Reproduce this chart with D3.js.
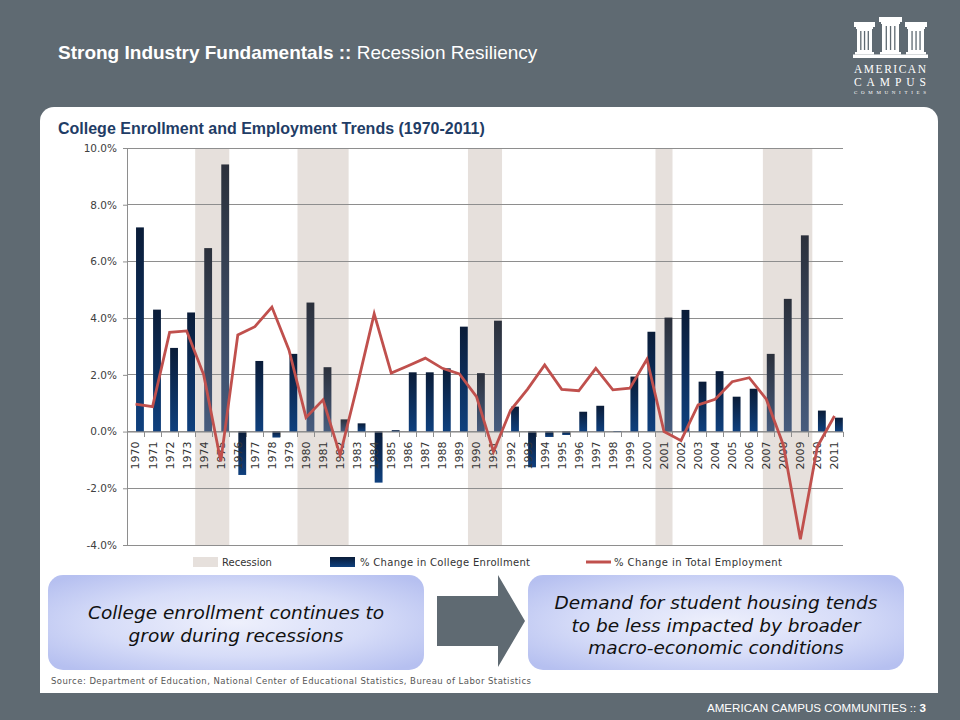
<!DOCTYPE html>
<html>
<head>
<meta charset="utf-8">
<script src="https://cdn.jsdelivr.net/npm/d3@7"></script>
<style>
  html, body { margin: 0; padding: 0; background: #5f6a72; }
  svg { display: block; }
</style>
</head>
<body>
<svg id="chart" width="960" height="720"></svg>
<script>
// ---------- DATA ----------
const years = [1970,1971,1972,1973,1974,1975,1976,1977,1978,1979,
               1980,1981,1982,1983,1984,1985,1986,1987,1988,1989,
               1990,1991,1992,1993,1994,1995,1996,1997,1998,1999,
               2000,2001,2002,2003,2004,2005,2006,2007,2008,2009,
               2010,2011];
const enrollment = [7.2, 4.3, 2.95, 4.2, 6.47, 9.42, -1.53, 2.49, -0.21, 2.74,
                    4.55, 2.27, 0.43, 0.29, -1.8, 0.05, 2.09, 2.09, 2.23, 3.7,
                    2.06, 3.91, 0.88, -1.26, -0.19, -0.12, 0.7, 0.91, 0.02, 1.94,
                    3.52, 4.02, 4.29, 1.76, 2.13, 1.23, 1.51, 2.74, 4.68, 6.92,
                    0.74, 0.49];
const employment = [0.97, 0.88, 3.5, 3.55, 2.0, -1.05, 3.41, 3.7, 4.39, 2.88,
                    0.5, 1.12, -0.83, 1.6, 4.15, 2.06, 2.32, 2.59, 2.23, 2.03,
                    1.23, -0.71, 0.75, 1.5, 2.35, 1.49, 1.44, 2.23, 1.47, 1.53,
                    2.55, 0.0, -0.32, 0.94, 1.14, 1.76, 1.9, 1.14, -0.47, -3.8,
                    -0.53, 0.55];
// recession periods (start / end, in year units)
const recessionStart = [1974, 1980, 1990, 2001, 2007.3];
const recessionEnd   = [1975, 1982, 1991, 2001, 2009.2];
const yTickValues = [-4, -2, 0, 2, 4, 6, 8, 10];
const yTickLabels = ["-4.0%", "-2.0%", "0.0%", "2.0%", "4.0%", "6.0%", "8.0%", "10.0%"];
const legendLabels = ["Recession", "% Change in College Enrollment", "% Change in Total Employment"];
const headerBold = "Strong Industry Fundamentals :: ";
const headerRegular = "Recession Resiliency";
const chartTitle = "College Enrollment and Employment Trends (1970-2011)";
const leftBoxLines = ["College enrollment continues to", "grow during recessions"];
const rightBoxLines = ["Demand for student housing tends", "to be less impacted by broader", "macro-economic conditions"];
const sourceText = "Source: Department of Education, National Center of Educational Statistics, Bureau of Labor Statistics";
const footerText = "AMERICAN CAMPUS COMMUNITIES :: ";
const pageNumber = "3";
const logoLines = ["AMERICAN", "CAMPUS", "COMMUNITIES"];

// ---------- SETUP ----------
const svg = d3.select("#chart");
const defs = svg.append("defs");

function linGrad(id, c0, c1) {
  const g = defs.append("linearGradient").attr("id", id)
    .attr("x1", 0).attr("y1", 0).attr("x2", 0).attr("y2", 1);
  g.append("stop").attr("offset", "0%").attr("stop-color", c0);
  g.append("stop").attr("offset", "100%").attr("stop-color", c1);
}
linGrad("barGrad", "#0a1c38", "#0f407e");
linGrad("barGradRec", "#2b303b", "#475c7e");

const boxGrad = defs.append("radialGradient").attr("id", "boxGrad")
  .attr("cx", "50%").attr("cy", "50%").attr("r", "65%");
boxGrad.append("stop").attr("offset", "0%").attr("stop-color", "#eef0fc");
boxGrad.append("stop").attr("offset", "55%").attr("stop-color", "#d6dcf8");
boxGrad.append("stop").attr("offset", "100%").attr("stop-color", "#b6c0f0");

// background
svg.append("rect").attr("width", 960).attr("height", 720).attr("fill", "#5f6a72");

// header title
const ht = svg.append("text").attr("x", 58).attr("y", 59)
  .attr("font-family", "Liberation Sans, Arial, sans-serif").attr("font-size", 19)
  .attr("fill", "#ffffff");
ht.append("tspan").attr("font-weight", "bold").text(headerBold);
ht.append("tspan").text(headerRegular);

// logo
const logo = svg.append("g").attr("fill", "#ffffff");
const cols = [
  {x: 855, w: 19, top: 22},
  {x: 880, w: 21, top: 17},
  {x: 906, w: 20, top: 22}
];
const colBase = 52;
cols.forEach(c => {
  logo.append("rect").attr("x", c.x - 1).attr("y", c.top).attr("width", c.w + 2).attr("height", 5);
  logo.append("rect").attr("x", c.x + 1).attr("y", c.top + 5).attr("width", c.w - 2).attr("height", 2);
  logo.append("rect").attr("x", c.x + 2).attr("y", c.top + 7).attr("width", c.w - 4).attr("height", colBase - c.top - 7);
  for (let k = 1; k <= 3; k++) {
    logo.append("rect").attr("x", c.x + 2 + k * (c.w - 4) / 4 - 0.6).attr("y", c.top + 9)
      .attr("width", 1.3).attr("height", colBase - c.top - 11).attr("fill", "#5f6a72");
  }
  logo.append("rect").attr("x", c.x).attr("y", colBase).attr("width", c.w).attr("height", 2.5);
});
logo.append("rect").attr("x", 853).attr("y", 54.5).attr("width", 75).attr("height", 3.5);
logo.append("text").attr("x", 854).attr("y", 73).attr("font-family", "Liberation Serif, serif")
  .attr("font-size", 11.5).attr("textLength", 72).attr("lengthAdjust", "spacing").text(logoLines[0]);
logo.append("text").attr("x", 854).attr("y", 86).attr("font-family", "Liberation Serif, serif")
  .attr("font-size", 11.5).attr("textLength", 72).attr("lengthAdjust", "spacing").text(logoLines[1]);
logo.append("text").attr("x", 854).attr("y", 94).attr("font-family", "Liberation Serif, serif")
  .attr("font-size", 5).attr("textLength", 72).attr("lengthAdjust", "spacing").text(logoLines[2]);

// white panel
svg.append("rect").attr("x", 40).attr("y", 107).attr("width", 898).attr("height", 586)
  .attr("rx", 14).attr("fill", "#ffffff");
svg.append("rect").attr("x", 40).attr("y", 670).attr("width", 898).attr("height", 23)
  .attr("fill", "#ffffff");

// chart title
svg.append("text").attr("x", 58).attr("y", 134)
  .attr("font-family", "Liberation Sans, Arial, sans-serif").attr("font-size", 16)
  .attr("font-weight", "bold").attr("fill", "#1f3d66").text(chartTitle);

// ---------- SCALES ----------
const x0 = 127, x1 = 843, yTop = 148, yBot = 545;
const x = d3.scaleBand().domain(years).range([x0, x1]).padding(0);
const xLin = d3.scaleLinear().domain([years[0], years[years.length - 1] + 1]).range([x0, x1]);
const y = d3.scaleLinear().domain([-4, 10]).range([yBot, yTop]);
const bw = x.bandwidth();

// recession shading
const recessions = recessionStart.map((s, i) => ({s, e: recessionEnd[i]}));
svg.append("g").selectAll("rect").data(recessions).join("rect")
  .attr("x", d => xLin(d.s)).attr("width", d => xLin(d.e + 1) - xLin(d.s))
  .attr("y", yTop).attr("height", yBot - yTop).attr("fill", "#e6e0dc");

// gridlines
svg.append("g").selectAll("line").data(yTickValues).join("line")
  .attr("x1", x0).attr("x2", x1).attr("y1", d => y(d)).attr("y2", d => y(d))
  .attr("stroke", "#8e8e8e").attr("stroke-width", 1).attr("shape-rendering", "crispEdges");

// y axis
const yAxis = d3.axisLeft(y).tickValues(yTickValues)
  .tickFormat((d, i) => yTickLabels[i]).tickSize(4).tickPadding(6);
const yg = svg.append("g").attr("transform", `translate(${x0},0)`).call(yAxis);
yg.select(".domain").attr("stroke", "#8e8e8e");
yg.selectAll(".tick line").attr("stroke", "#8e8e8e");
yg.selectAll(".tick text").attr("font-family", "DejaVu Sans, sans-serif").attr("font-size", 10.5)
  .attr("fill", "#404040");

// bars
function inRecession(yr) {
  const cx = x(yr) + bw * 0.75;
  return recessions.some(r => cx >= xLin(r.s) && cx <= xLin(r.e + 1));
}
const barData = years.map((yr, i) => ({yr, v: enrollment[i]}));
svg.append("g").selectAll("rect").data(barData).join("rect")
  .attr("x", d => x(d.yr) + bw * 0.53)
  .attr("width", bw * 0.46)
  .attr("y", d => Math.min(y(d.v), y(0)))
  .attr("height", d => Math.abs(y(d.v) - y(0)))
  .attr("fill", d => inRecession(d.yr) ? "url(#barGradRec)" : "url(#barGrad)");

// x axis at zero
const xAxis = d3.axisBottom(x).tickSize(0).tickPadding(0);
const xg = svg.append("g").attr("transform", `translate(0,${y(0)})`).call(xAxis);
xg.select(".domain").attr("stroke", "#8e8e8e");
xg.selectAll(".tick text").remove();
// tick marks at band boundaries
const bounds = years.map(yr => x(yr)).concat([x1]);
svg.append("g").selectAll("line").data(bounds).join("line")
  .attr("x1", d => d).attr("x2", d => d).attr("y1", y(0)).attr("y2", y(0) + 5)
  .attr("stroke", "#8e8e8e").attr("shape-rendering", "crispEdges");
svg.append("g").selectAll("text").data(years).join("text")
  .attr("transform", d => `translate(${x(d) + bw / 2},${y(0) + 10}) rotate(-90)`)
  .attr("text-anchor", "end").attr("dy", "0.36em")
  .attr("font-family", "DejaVu Sans, sans-serif").attr("font-size", 11)
  .attr("fill", "#333333").text(d => d);

// employment line
const line = d3.line().x((d, i) => x(years[i]) + bw / 2).y(d => y(d));
svg.append("path").datum(employment).attr("d", line)
  .attr("fill", "none").attr("stroke", "#c0504d").attr("stroke-width", 2.8)
  .attr("stroke-linejoin", "miter");

// legend
const lg = svg.append("g").attr("font-family", "DejaVu Sans, sans-serif")
  .attr("font-size", 10).attr("fill", "#333333");
lg.append("rect").attr("x", 193).attr("y", 557).attr("width", 25).attr("height", 10).attr("fill", "#e6e0dc");
lg.append("text").attr("x", 222).attr("y", 566).text(legendLabels[0]);
lg.append("rect").attr("x", 330).attr("y", 557).attr("width", 25).attr("height", 10).attr("fill", "url(#barGrad)");
lg.append("text").attr("x", 360).attr("y", 566).attr("textLength", 170).attr("lengthAdjust", "spacing").text(legendLabels[1]);
lg.append("line").attr("x1", 586).attr("x2", 611).attr("y1", 562).attr("y2", 562)
  .attr("stroke", "#c0504d").attr("stroke-width", 3);
lg.append("text").attr("x", 614).attr("y", 566).attr("textLength", 168).attr("lengthAdjust", "spacing").text(legendLabels[2]);

// boxes
function box(bx, by, w, h, lines, cy, lh) {
  svg.append("rect").attr("x", bx).attr("y", by).attr("width", w).attr("height", h)
    .attr("rx", 15).attr("fill", "url(#boxGrad)");
  const t = svg.append("text").attr("text-anchor", "middle")
    .attr("font-family", "DejaVu Sans, Verdana, sans-serif").attr("font-style", "italic")
    .attr("font-size", 18.5).attr("fill", "#111111");
  lines.forEach((l, i) => {
    t.append("tspan").attr("x", bx + w / 2).attr("y", cy + i * lh).text(l);
  });
}
box(48, 575, 376, 95, leftBoxLines, 619, 23);
box(528, 575, 376, 95, rightBoxLines, 609, 22.5);

// arrow
svg.append("path")
  .attr("d", "M437,596 L498,596 L498,575 L525,621 L498,667 L498,646 L437,646 Z")
  .attr("fill", "#5f6a72");

// source
svg.append("text").attr("x", 51).attr("y", 684)
  .attr("font-family", "DejaVu Sans, sans-serif").attr("font-size", 8.5)
  .attr("fill", "#555555").attr("textLength", 480).attr("lengthAdjust", "spacing").text(sourceText);

// footer
const ft = svg.append("text").attr("x", 926).attr("y", 712).attr("text-anchor", "end")
  .attr("font-family", "Liberation Sans, Arial, sans-serif").attr("font-size", 11.6)
  .attr("fill", "#ffffff");
ft.append("tspan").text(footerText);
ft.append("tspan").attr("font-weight", "bold").text(pageNumber);
</script>
</body>
</html>
